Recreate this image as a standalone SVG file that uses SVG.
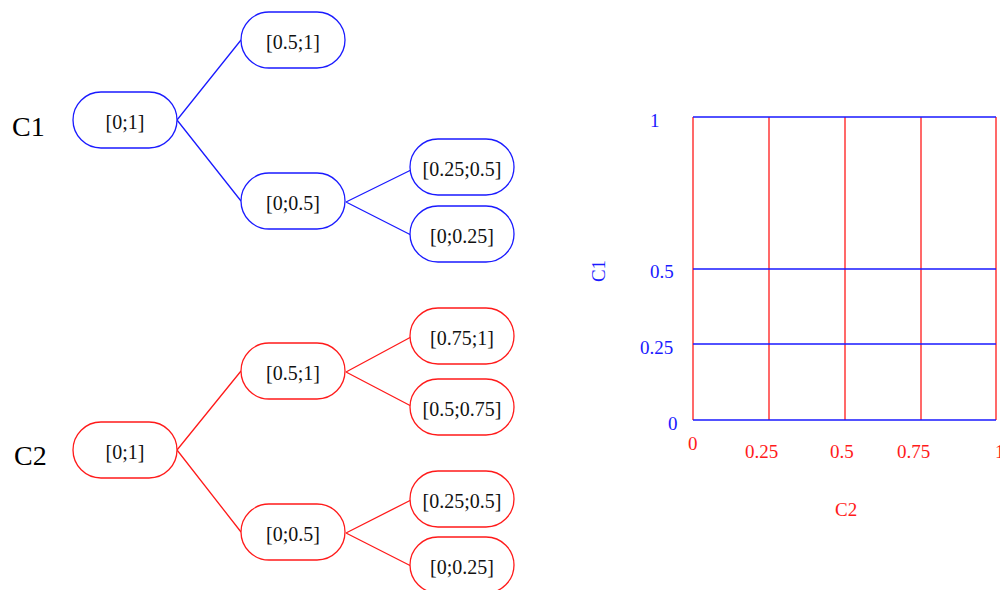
<svg xmlns="http://www.w3.org/2000/svg" width="1000" height="590" viewBox="0 0 1000 590">
<style>
.b{fill:#fff;stroke:#1a1aff;stroke-width:1.3}
.r{fill:#fff;stroke:#ff1a1a;stroke-width:1.3}
.t{font-family:"Liberation Serif","Times New Roman",serif;font-size:20px;fill:#111;text-anchor:middle}
.eb{stroke:#1a1aff;stroke-width:1.3;fill:none}
.er{stroke:#ff1a1a;stroke-width:1.3;fill:none}
.big{font-family:"Liberation Serif","Times New Roman",serif;font-size:28px;fill:#000}
.lb{font-family:"Liberation Serif","Times New Roman",serif;font-size:19px;fill:#1a1aff}
.lr{font-family:"Liberation Serif","Times New Roman",serif;font-size:19px;fill:#ff1a1a}
</style>
<rect width="1000" height="590" fill="#fff"/>
<text class="big" x="12" y="136">C1</text>
<text class="big" x="14" y="465">C2</text>
<g id="connectors">
<path class="eb" d="M177 120L241 40M177 120L241 201M346 202L411 170M346 202L411 235"/>
<path class="er" d="M177 450L241 371M177 450L241 532M346 372L411 337M346 372L411 406M346 533L411 500M346 533L411 566"/>
</g>
<g id="c1_root"><rect class="b" x="73" y="92" width="104" height="56" rx="28"/><text class="t" x="125" y="129">[0;1]</text></g>
<g id="c1_a"><rect class="b" x="241" y="12" width="104" height="56" rx="28"/><text class="t" x="293" y="49">[0.5;1]</text></g>
<g id="c1_b"><rect class="b" x="241" y="173" width="104" height="56" rx="28"/><text class="t" x="293" y="210">[0;0.5]</text></g>
<g id="c1_ba"><rect class="b" x="410" y="139" width="104" height="56" rx="28"/><text class="t" x="462" y="176">[0.25;0.5]</text></g>
<g id="c1_bb"><rect class="b" x="410" y="206" width="104" height="56" rx="28"/><text class="t" x="462" y="243">[0;0.25]</text></g>
<g id="c2_root"><rect class="r" x="73" y="422" width="104" height="56" rx="28"/><text class="t" x="125" y="459">[0;1]</text></g>
<g id="c2_a"><rect class="r" x="241" y="343" width="104" height="56" rx="28"/><text class="t" x="293" y="380">[0.5;1]</text></g>
<g id="c2_b"><rect class="r" x="241" y="504" width="104" height="56" rx="28"/><text class="t" x="293" y="541">[0;0.5]</text></g>
<g id="c2_aa"><rect class="r" x="410" y="308" width="104" height="56" rx="28"/><text class="t" x="462" y="345">[0.75;1]</text></g>
<g id="c2_ab"><rect class="r" x="410" y="379" width="104" height="56" rx="28"/><text class="t" x="462" y="416">[0.5;0.75]</text></g>
<g id="c2_ba"><rect class="r" x="410" y="471" width="104" height="56" rx="28"/><text class="t" x="462" y="508">[0.25;0.5]</text></g>
<g id="c2_bb"><rect class="r" x="410" y="537" width="104" height="56" rx="28"/><text class="t" x="462" y="574">[0;0.25]</text></g>
<g id="grid">
<path class="er" d="M693 117V420M769 117V420M845 117V420M921 117V420M996 117V420"/>
<path class="eb" d="M693 117H996M693 269H996M693 344H996M693 420H996"/>
<text class="lb" x="650" y="127">1</text>
<text class="lb" x="650" y="278">0.5</text>
<text class="lb" x="640" y="354">0.25</text>
<text class="lb" x="668" y="430">0</text>
<text class="lb" transform="translate(605 271) rotate(-90)" text-anchor="middle">C1</text>
<text class="lr" x="688" y="450">0</text>
<text class="lr" x="745" y="458">0.25</text>
<text class="lr" x="830" y="458">0.5</text>
<text class="lr" x="897" y="458">0.75</text>
<text class="lr" x="995" y="458">1</text>
<text class="lr" x="835" y="516">C2</text>
</g>
</svg>
